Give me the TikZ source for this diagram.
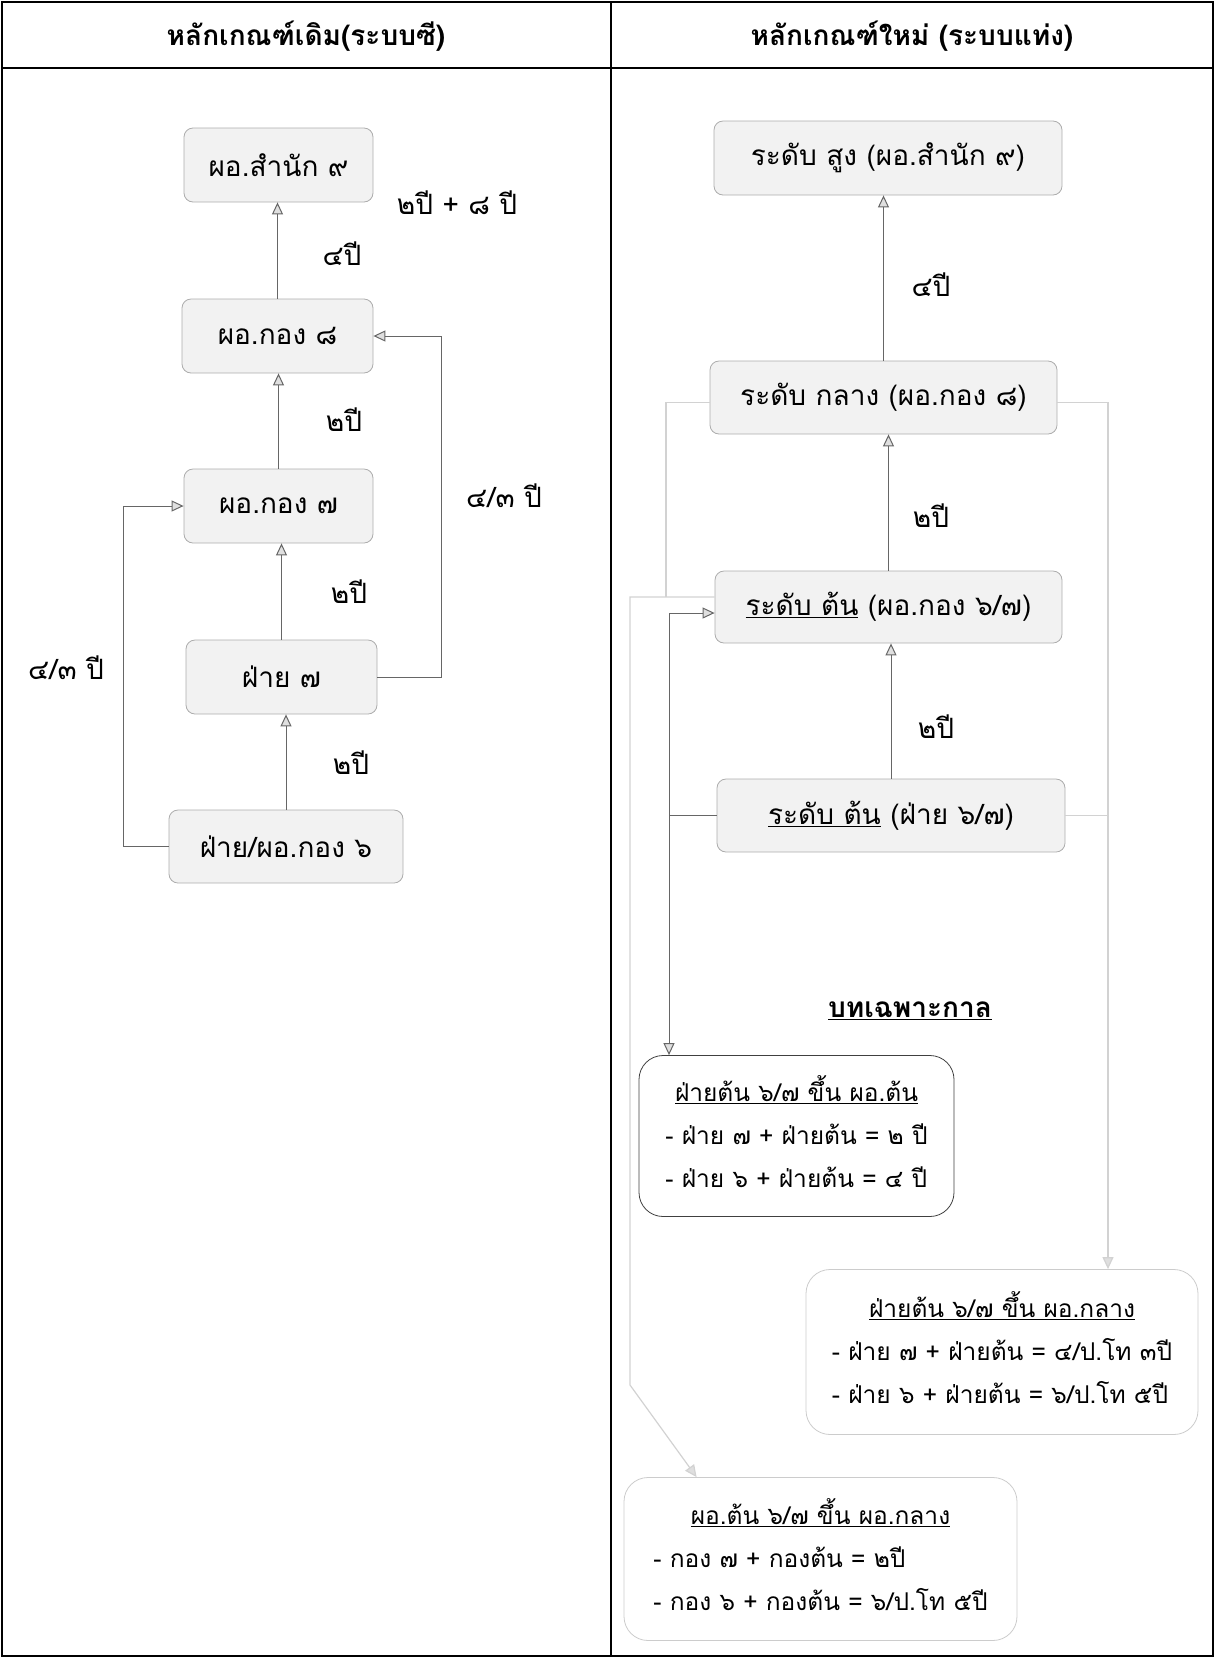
\documentclass[tikz,border=0pt]{standalone}
\usepackage{fontspec}
\newfontfamily\thai[Script=Thai]{Loma}
\usetikzlibrary{arrows.meta}
\begin{document}
\begin{tikzpicture}[x=1pt,y=-1pt,
  gbox/.style={draw=gray!65, fill=gray!10, rounded corners=9pt, inner sep=0pt, line width=0.8pt, font=\thai\fontsize{28}{34}\selectfont},
  note/.style={rounded corners=24pt, inner sep=0pt, fill=white, line width=0.8pt, font=\thai\fontsize{24.5}{43}\selectfont},
  lbl/.style={inner sep=0pt, font=\thai\fontsize{28}{34}\selectfont},
  head/.style={inner sep=0pt, font=\thai\bfseries\fontsize{28}{34}\selectfont},
  tipg/.tip={Triangle[length=12pt,width=11pt,fill=gray!25]},
  conn/.style={draw=black!60, line width=1pt, -tipg},
  dline/.style={draw=black!60, line width=1pt},
  lconn/.style={draw=gray!35, line width=1.2pt, -tipg},
  lline/.style={draw=gray!35, line width=1.2pt}
]
\useasboundingbox (0,0) rectangle (1215,1658);
% frame
\draw[line width=2pt] (2,2) rectangle (1213,1656);
\draw[line width=1.6pt] (2,68) -- (1213,68);
\draw[line width=1.6pt] (611,2) -- (611,1656);
\node[head] (h1) at (306,36) {หลักเกณฑ์เดิม(ระบบซี)};
\node[head] (h2) at (912,36) {หลักเกณฑ์ใหม่ (ระบบแท่ง)};

% left column
\node[gbox, minimum width=189, minimum height=74] (s9) at (278.5,165) {ผอ.สำนัก ๙};
\node[gbox, minimum width=191, minimum height=74] (k8) at (277.5,336) {ผอ.กอง ๘};
\node[gbox, minimum width=189, minimum height=74] (k7) at (278.5,506) {ผอ.กอง ๗};
\node[gbox, minimum width=191, minimum height=74] (f7) at (281.5,677) {ฝ่าย ๗};
\node[gbox, minimum width=234, minimum height=73] (f6) at (286,846.5) {ฝ่าย/ผอ.กอง ๖};

\draw[conn] (k8.north) -- (k8.north |- s9.south);
\draw[conn] (k7.north) -- (k7.north |- k8.south);
\draw[conn] (f7.north) -- (f7.north |- k7.south);
\draw[conn] (f6.north) -- (f6.north |- f7.south);

\coordinate (xR) at (441,0);
\coordinate (xL) at (123,0);
\draw[conn] (f7.east) -- (f7.east -| xR) -- (k8.east -| xR) -- (k8.east);
\draw[conn] (f6.west) -- (f6.west -| xL) -- (k7.west -| xL) -- (k7.west);

\node[lbl] (l1) at (457,203) {๒ปี + ๘ ปี};
\node[lbl] (l2) at (342,254) {๔ปี};
\node[lbl] (l3) at (344,420) {๒ปี};
\node[lbl] (l4) at (504,496) {๔/๓ ปี};
\node[lbl] (l5) at (349,592) {๒ปี};
\node[lbl] (l6) at (351,763) {๒ปี};
\node[lbl] (l7) at (66,668) {๔/๓ ปี};

% right column
\node[gbox, minimum width=348, minimum height=74] (su) at (888,158) {ระดับ สูง (ผอ.สำนัก ๙)};
\node[gbox, minimum width=347, minimum height=73] (kl) at (883.5,397.5) {ระดับ กลาง (ผอ.กอง ๘)};
\node[gbox, minimum width=347, minimum height=72] (tn) at (888.5,607) {\underline{ระดับ ต้น} (ผอ.กอง ๖/๗)};
\node[gbox, minimum width=348, minimum height=73] (fy) at (891,815.5) {\underline{ระดับ ต้น} (ฝ่าย ๖/๗)};

\draw[conn] (kl.north) -- (kl.north |- su.south);
\draw[conn] (tn.north) -- (tn.north |- kl.south);
\draw[conn] (fy.north) -- (fy.north |- tn.south);

\node[lbl] (r1) at (931,285) {๔ปี};
\node[lbl] (r2) at (931,516) {๒ปี};
\node[lbl] (r3) at (936,727) {๒ปี};
\node[head] (bt) at (910,1011) {\underline{บทเฉพาะกาล}};

\node[note, draw=black!75, minimum width=315, minimum height=161] (bA) at (796.5,1136)
  {\begin{tabular}{@{}l@{}}\multicolumn{1}{@{}c@{}}{\underline{ฝ่ายต้น ๖/๗ ขึ้น ผอ.ต้น}}\\ - ฝ่าย ๗ + ฝ่ายต้น = ๒ ปี\\ - ฝ่าย ๖ + ฝ่ายต้น = ๔ ปี\end{tabular}};
\node[note, draw=gray!40, minimum width=392, minimum height=165] (bB) at (1002,1352)
  {\begin{tabular}{@{}l@{}}\multicolumn{1}{@{}c@{}}{\underline{ฝ่ายต้น ๖/๗ ขึ้น ผอ.กลาง}}\\ - ฝ่าย ๗ + ฝ่ายต้น = ๔/ป.โท ๓ปี\\ - ฝ่าย ๖ + ฝ่ายต้น = ๖/ป.โท ๕ปี\end{tabular}};
\node[note, draw=gray!40, minimum width=393, minimum height=163] (bC) at (820.5,1559)
  {\begin{tabular}{@{}l@{}}\multicolumn{1}{@{}c@{}}{\underline{ผอ.ต้น ๖/๗ ขึ้น ผอ.กลาง}}\\ - กอง ๗ + กองต้น = ๒ปี\\ - กอง ๖ + กองต้น = ๖/ป.โท ๕ปี\end{tabular}};

\coordinate (xd) at (669,0);
\coordinate (xm) at (666,0);
\coordinate (xl) at (630,0);
\coordinate (xr) at (1108,0);
\coordinate (tnW) at ([yshift=-6pt]tn.west);
\coordinate (tnW2) at ([yshift=10pt]tn.west);
\coordinate (klW) at ([yshift=-5pt]kl.west);
\coordinate (klE) at ([yshift=-5pt]kl.east);
\coordinate (bend) at (630,1385);
\coordinate (cC) at ([xshift=73pt]bC.north west);

\draw[lline] (klW) -- (klW -| xm) -- (xm |- tnW2);
\draw[lconn] (tnW2) -- (tnW2 -| xl) -- (bend) -- (cC);
\draw[lconn] (klE) -- (klE -| xr) -- (xr |- bB.north);
\draw[lline] (fy.east) -- (fy.east -| xr);
\draw[conn] (fy.west) -- (fy.west -| xd) -- (xd |- tnW) -- (tnW);
\draw[conn] (fy.west -| xd) -- (xd |- bA.north);
\end{tikzpicture}
\end{document}
